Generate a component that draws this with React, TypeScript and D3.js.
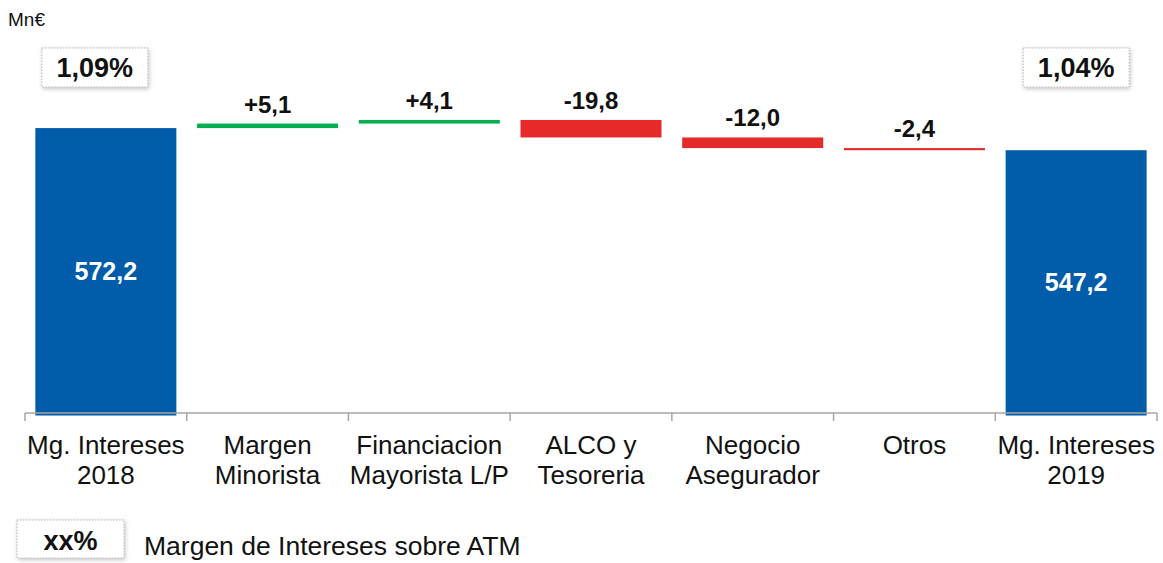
import * as d3 from "d3";

const categories = [
  ["Mg. Intereses", "2018"],
  ["Margen", "Minorista"],
  ["Financiacion", "Mayorista L/P"],
  ["ALCO y", "Tesoreria"],
  ["Negocio", "Asegurador"],
  ["Otros"],
  ["Mg. Intereses", "2019"],
];
const startTotal = 572.2;
const deltas = [5.1, 4.1, -19.8, -12.0, -2.4];
const endTotal = 547.2;
const ratios = ["1,09%", "1,04%"];
const unitLabel = "Mn€";
const legendKey = "xx%";
const legendText = "Margen de Intereses sobre ATM";

const W = 1163;
const H = 563;
const FONT = "'Liberation Sans', Arial, sans-serif";
const BLUE = "#015ca9";
const GREEN = "#00b050";
const RED = "#e52a2a";

const locale = d3.formatLocale({ decimal: ",", thousands: ".", grouping: [3], currency: ["", "€"], minus: "-" });
const fmtTotal = locale.format(".1f");
const fmtDelta = locale.format("+.1f");

type Step = { i: number; y0: number; y1: number; kind: "total" | "up" | "down"; value: number };

export default function App() {
  const steps: Step[] = [];
  steps.push({ i: 0, y0: 0, y1: startTotal, kind: "total", value: startTotal });
  let run = startTotal;
  deltas.forEach((d, k) => {
    steps.push({ i: k + 1, y0: run, y1: run + d, kind: d >= 0 ? "up" : "down", value: d });
    run += d;
  });
  steps.push({ i: categories.length - 1, y0: 0, y1: endTotal, kind: "total", value: endTotal });

  const x = d3.scaleBand<number>().domain(d3.range(categories.length)).range([25, 1157]).padding(0);
  const y = d3.scaleLinear().domain([248, 600]).range([415, 415 - 352 * 0.885]);
  const axisY = 413;
  const inset = x.bandwidth() * 0.064;
  const bw = x.bandwidth() - inset * 2;

  const top = (s: Step) => (s.kind === "total" ? y(s.y1) : y(Math.max(s.y0, s.y1)));
  const bottom = (s: Step) => (s.kind === "total" ? 415.5 : y(Math.min(s.y0, s.y1)));

  const totals = steps.filter(s => s.kind === "total");

  return (
    <svg width={W} height={H} style={{ position: "absolute", left: 0, top: 0, background: "#fff" }} fontFamily={FONT}>
      <defs>
        <filter id="sh" x="-20%" y="-30%" width="140%" height="160%">
          <feDropShadow dx="1" dy="1.5" stdDeviation="2" floodColor="#000" floodOpacity="0.25" />
        </filter>
      </defs>

      <text x={8} y={26} fontSize={19} fill="#111">{unitLabel}</text>

      {steps.map(s => (
        <rect
          key={"b" + s.i + s.kind}
          x={x(s.i)! + inset}
          y={top(s)}
          width={bw}
          height={Math.max(bottom(s) - top(s), 1.5)}
          fill={s.kind === "total" ? BLUE : s.kind === "up" ? GREEN : RED}
        />
      ))}

      {/* axis */}
      <line x1={25} x2={1157} y1={axisY} y2={axisY} stroke="#a6a6a6" strokeWidth={1.5} />
      {d3.range(categories.length + 1).map(k => {
        const tx = k < categories.length ? x(k)! : 1157;
        return <line key={"t" + k} x1={tx} x2={tx} y1={axisY} y2={axisY + 8} stroke="#a6a6a6" strokeWidth={1.5} />;
      })}

      {categories.map((lines, k) => (
        <text key={"c" + k} textAnchor="middle" fontSize={26} fill="#111">
          {lines.map((l, j) => (
            <tspan key={j} x={x(k)! + x.bandwidth() / 2} y={454 + j * 30}>{l}</tspan>
          ))}
        </text>
      ))}

      {/* values inside total bars */}
      {totals.map(s => (
        <text
          key={"v" + s.i}
          x={x(s.i)! + x.bandwidth() / 2}
          y={(top(s) + axisY) / 2 + 9}
          textAnchor="middle"
          fontSize={25}
          fontWeight="bold"
          fill="#fff"
        >
          {fmtTotal(s.value)}
        </text>
      ))}

      {/* delta labels */}
      {steps.filter(s => s.kind !== "total").map(s => (
        <text
          key={"d" + s.i}
          x={x(s.i)! + x.bandwidth() / 2}
          y={top(s) - 11}
          textAnchor="middle"
          fontSize={24}
          fontWeight="bold"
          fill="#111"
        >
          {fmtDelta(s.value)}
        </text>
      ))}

      {/* ratio boxes */}
      {totals.map((s, k) => {
        const cx = x(s.i)! + x.bandwidth() / 2 + (k === 0 ? -11 : 0);
        return (
          <g key={"r" + k}>
            <rect x={cx - 53} y={48} width={106} height={39} fill="#fff" stroke="#b5b5b5" strokeDasharray="1.5 1.5" filter="url(#sh)" />
            <text x={cx} y={77} textAnchor="middle" fontSize={27} fontWeight="bold" fill="#111">{ratios[k]}</text>
          </g>
        );
      })}

      {/* legend */}
      <rect x={17} y={520} width={107} height={38} fill="#fff" stroke="#b5b5b5" strokeDasharray="1.5 1.5" filter="url(#sh)" />
      <text x={70.5} y={550} textAnchor="middle" fontSize={27} fontWeight="bold" fill="#111">{legendKey}</text>
      <text x={144} y={555} fontSize={26.5} fill="#111">{legendText}</text>
    </svg>
  );
}
